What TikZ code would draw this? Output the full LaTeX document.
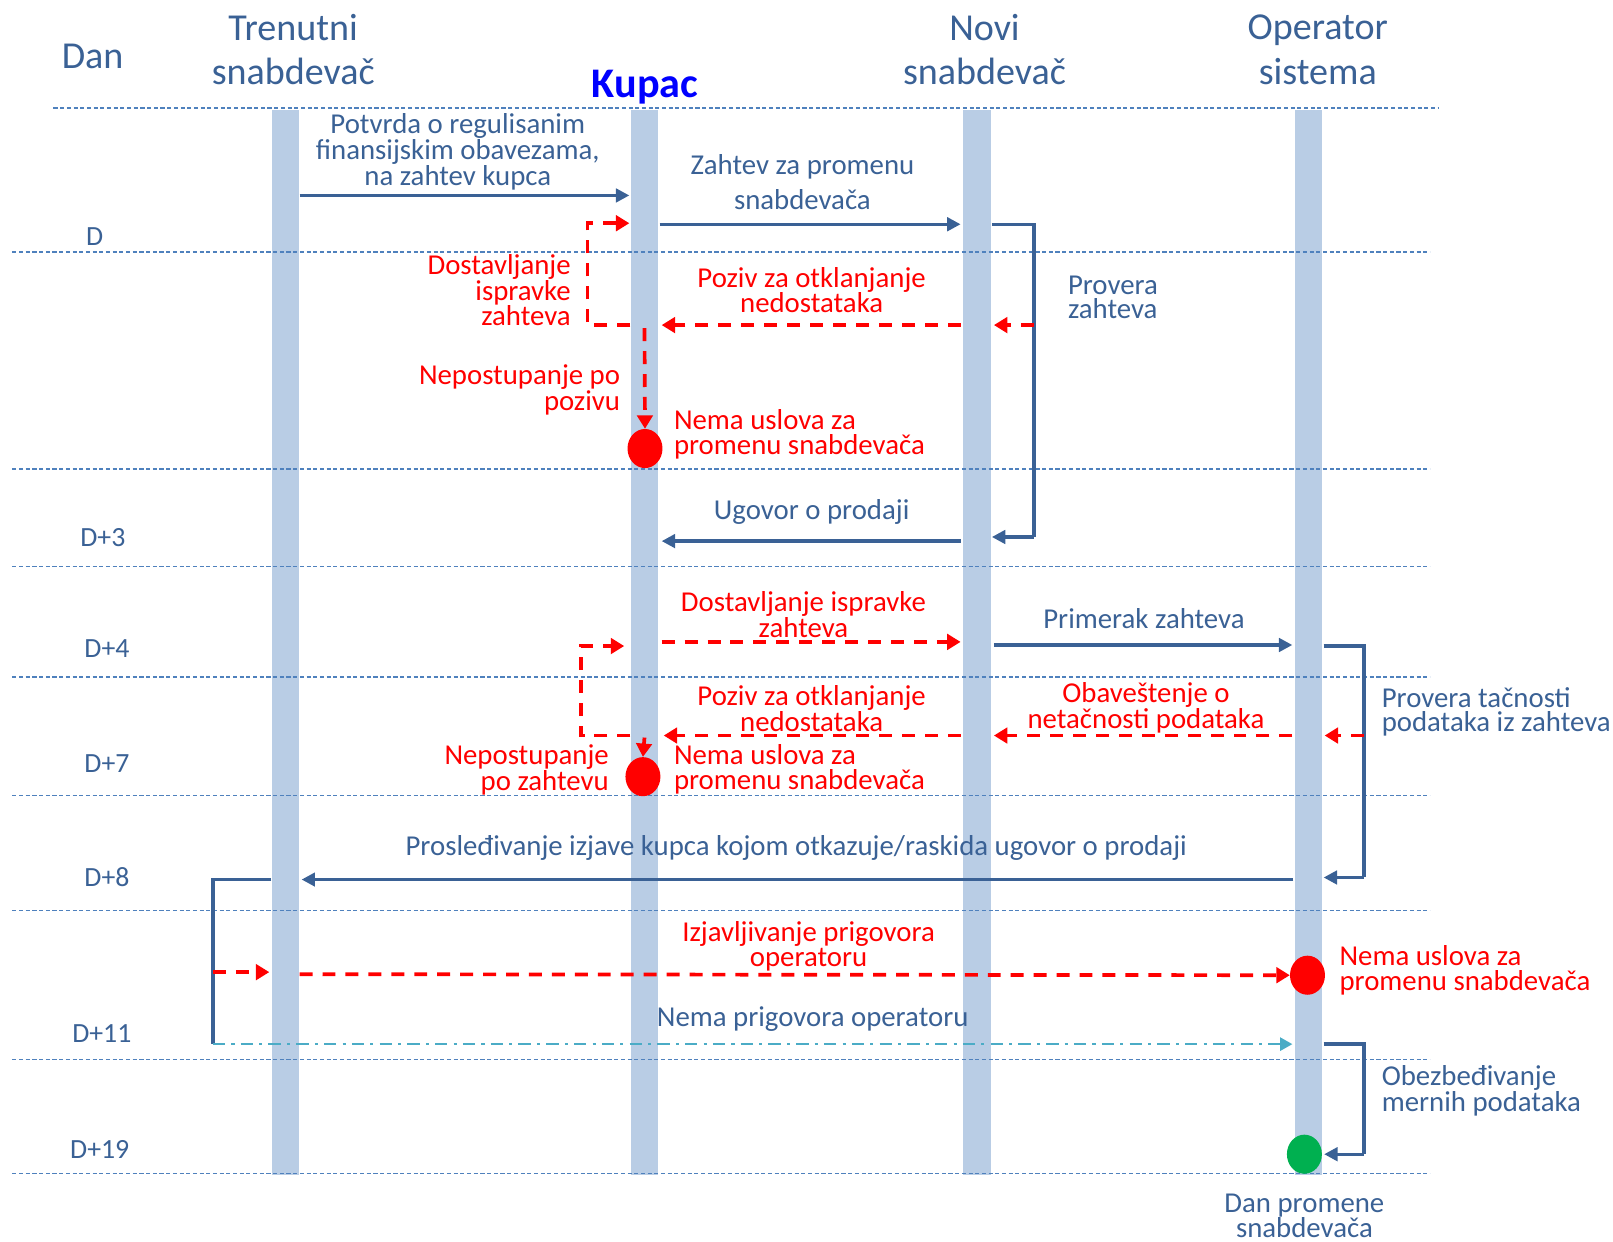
\documentclass[tikz,border=0pt]{standalone}
\usepackage{fontspec}
\setmainfont{Carlito}
\usetikzlibrary{arrows.meta,shapes.geometric}
\definecolor{barc}{HTML}{B9CDE5}
\definecolor{sepc}{HTML}{4F81BD}
\definecolor{linec}{HTML}{3A6195}
\definecolor{txtb}{HTML}{3A6195}
\definecolor{cyanc}{HTML}{4BACC6}
\definecolor{greenc}{HTML}{00B050}
\definecolor{kup}{HTML}{0000FF}
\begin{document}
\begin{tikzpicture}[x=1pt,y=-1pt,
  lane/.style={fill=barc,draw=none,minimum width=27pt,minimum height=1035pt,inner sep=0pt},
  hdr/.style={font=\fontsize{37}{43}\selectfont,text=txtb,align=center,inner sep=0pt},
  lbl/.style={font=\fontsize{28}{24}\selectfont,text=txtb,align=center,inner sep=0pt},
  rlbl/.style={lbl,text=red},
  daylbl/.style={font=\fontsize{27}{30}\selectfont,text=txtb,inner sep=0pt},
  sepline/.style={draw=sepc,line width=1.2pt,dash pattern=on 4pt off 2.5pt},
  msg/.style={draw=linec,line width=3.2pt,-{Triangle[length=13pt,width=13pt]}},
  msgline/.style={draw=linec,line width=3.2pt},
  rmsg/.style={draw=red,line width=3.6pt,dash pattern=on 12.6pt off 9.7pt,-{Triangle[length=13pt,width=15pt]}},
  cmsg/.style={draw=cyanc,line width=1.8pt,dash pattern=on 12pt off 6pt on 3pt off 6pt,-{Triangle[length=12pt,width=13pt]}},
  dotr/.style={ellipse,fill=red,draw=none,inner sep=0pt,minimum width=34pt,minimum height=38pt},
  dotg/.style={ellipse,fill=greenc,draw=none,inner sep=0pt,minimum width=34pt,minimum height=38pt}
]
\useasboundingbox (0,0) rectangle (1568,1207);

% lifelines
\node[lane] (L1) at (277.5,624.5) {};
\node[lane] (L2) at (626.5,624.5) {};
\node[lane] (L3) at (949.5,624.5) {};
\node[lane] (L4) at (1272,624.5) {};

% separators
\coordinate (s0a) at (52,105);  \coordinate (s0b) at (1398,105);
\draw[sepline] (s0a) -- (s0b);
\foreach \yy/\nm in {245/s1,456/s2,551/s3,658/s4,773/s5,885/s6,1030/s7,1141/s8}{
  \coordinate (\nm a) at (12,\yy); \coordinate (\nm b) at (1390,\yy);
  \draw[sepline] (\nm a) -- (\nm b);
}

% headers
\node[hdr] (hDan) at (90,55) {Dan};
\node[hdr] (hT) at (285,48.5) {Trenutni\\snabdevač};
\node[font=\fontsize{41}{48}\bfseries\selectfont,text=kup,inner sep=0pt] (hK) at (627,85) {Kupac};
\node[hdr] (hN) at (957,48.5) {Novi\\snabdevač};
\node[hdr] (hO) at (1281,48.5) {Operator\\sistema};

% day labels
\node[daylbl] (dD) at (92,230) {D};
\node[daylbl] (d3) at (100,523) {D+3};
\node[daylbl] (d4) at (104,630) {D+4};
\node[daylbl] (d7) at (104,742) {D+7};
\node[daylbl] (d8) at (104,853) {D+8};
\node[daylbl] (d11) at (99,1005) {D+11};
\node[daylbl] (d19) at (97,1117) {D+19};

% ---- day D
\draw[msg] (L1.east |- 0,190) -- ([xshift=-1pt]L2.west |- 0,190);
\node[lbl] (tPot) at (445,147.5) {Potvrda o regulisanim\\finansijskim obavezama,\\na zahtev kupca};

\draw[msg] ([xshift=1pt]L2.east |- 0,218) -- ([xshift=-2pt]L3.west |- 0,218);
\node[lbl] (tZah) at (780,177) {Zahtev za promenu\\[10pt]snabdevača};

\coordinate (pA) at (1005,218);
\coordinate (pB) at (1005,522);
\coordinate (pC) at (1005,316);
\draw[msgline] ([xshift=1pt]L3.east |- pA) -- (pA) -- (pB);
\draw[msg] (pB) -- ([xshift=1pt]L3.east |- pB);
\node[lbl,anchor=west,align=left] (tProv) at (1038,289) {Provera\\zahteva};

\draw[rmsg] (pC) -- ([xshift=3pt]L3.east |- pC);
\draw[rmsg] ([xshift=-2pt]L3.west |- pC) -- ([xshift=3pt]L2.east |- pC);
\node[rlbl] (tPoz1) at (789,282) {Poziv za otklanjanje\\nedostataka};

\coordinate (qA) at (571,316);
\coordinate (qB) at (571,217);
\draw[rmsg] (L2.west |- qA) -- (qA) -- (qB) -- ([xshift=-1pt]L2.west |- qB);
\node[rlbl,anchor=east,align=right] (tDos1) at (555,282) {Dostavljanje\\ispravke\\zahteva};

\node[dotr] (c1) at (627,436) {};
\draw[rmsg] (L2.center |- 0,319) -- (c1.north);
\node[rlbl,anchor=east,align=right] (tNep1) at (603,379) {Nepostupanje po\\pozivu};
\node[rlbl,anchor=west,align=left] (tNem1) at (655,422) {Nema uslova za\\promenu snabdevača};

% ---- D+3
\draw[msg] ([xshift=-2pt]L3.west |- 0,526) -- ([xshift=3pt]L2.east |- 0,526);
\node[lbl] (tUg) at (789,498) {Ugovor o prodaji};

% ---- D+4
\draw[rmsg] ([xshift=3pt]L2.east |- 0,624) -- ([xshift=-2pt]L3.west |- 0,624);
\node[rlbl] (tDos2) at (781,597) {Dostavljanje ispravke\\zahteva};

\draw[msg] ([xshift=3pt]L3.east |- 0,627) -- ([xshift=-2pt]L4.west |- 0,627);
\node[lbl] (tPrim) at (1112,601) {Primerak zahteva};

\coordinate (rA) at (1326,628);
\coordinate (rB) at (1326,853);
\coordinate (rC) at (1326,715);
\draw[msgline] ([xshift=1pt]L4.east |- rA) -- (rA) -- (rB);
\draw[msg] (rB) -- ([xshift=1pt]L4.east |- rB);
\node[lbl,anchor=west,align=left] (tProv2) at (1343,692) {Provera tačnosti\\podataka iz zahteva};

\draw[rmsg] (rC) -- ([xshift=2pt]L4.east |- rC);
\draw[rmsg] ([xshift=-2pt]L4.west |- rC) -- ([xshift=3pt]L3.east |- rC);
\node[rlbl] (tOba) at (1114,688) {Obaveštenje o\\netačnosti podataka};

\draw[rmsg] ([xshift=-2pt]L3.west |- rC) -- ([xshift=5pt]L2.east |- rC);
\node[rlbl] (tPoz2) at (789,689) {Poziv za otklanjanje\\nedostataka};

\coordinate (uA) at (565,715);
\coordinate (uB) at (565,628);
\draw[rmsg] (L2.west |- uA) -- (uA) -- (uB) -- ([xshift=-6pt]L2.west |- uB);

\node[dotr] (c2) at (625,755) {};
\draw[rmsg] (L2.center |- 0,717) -- (c2.north);
\node[rlbl,anchor=east,align=right] (tNep2) at (592,748) {Nepostupanje\\po zahtevu};
\node[rlbl,anchor=west,align=left] (tNem2) at (655,748) {Nema uslova za\\promenu snabdevača};

% ---- D+8
\draw[msg] ([xshift=-1pt]L4.west |- 0,855) -- ([xshift=2pt]L1.east |- 0,855);
\node[lbl] (tPros) at (774,824) {Prosleđivanje izjave kupca kojom otkazuje/raskida ugovor o prodaji};

\coordinate (vA) at (207,855);
\coordinate (vB) at (207,1015);
\coordinate (vC) at (207,945);
\draw[msgline] (L1.west |- vA) -- (vA) -- (vB);
\draw[cmsg] (vB) -- ([xshift=-2pt]L4.west |- vB);
\node[lbl] (tNpr) at (790,991) {Nema prigovora operatoru};

\node[dotr] (c3) at (1271,948) {};
\draw[rmsg] (vC) -- ([xshift=-2pt]L1.west |- vC);
\draw[rmsg] (L1.east |- 0,947) -- (c3.west);
\node[rlbl] (tIzj) at (786,920) {Izjavljivanje prigovora\\operatoru};
\node[rlbl,anchor=west,align=left] (tNem3) at (1302,943) {Nema uslova za\\promenu snabdevača};

% ---- D+19
\node[dotg] (g1) at (1268,1122) {};
\coordinate (wA) at (1326,1015);
\coordinate (wB) at (1326,1122);
\draw[msgline] ([xshift=1pt]L4.east |- wA) -- (wA) -- (wB);
\draw[msg] (wB) -- ([xshift=2pt]g1.east);
\node[lbl,anchor=west,align=left] (tObe) at (1343,1060) {Obezbeđivanje\\mernih podataka};
\node[lbl] (tDan) at (1268,1182) {Dan promene\\snabdevača};
\end{tikzpicture}
\end{document}
